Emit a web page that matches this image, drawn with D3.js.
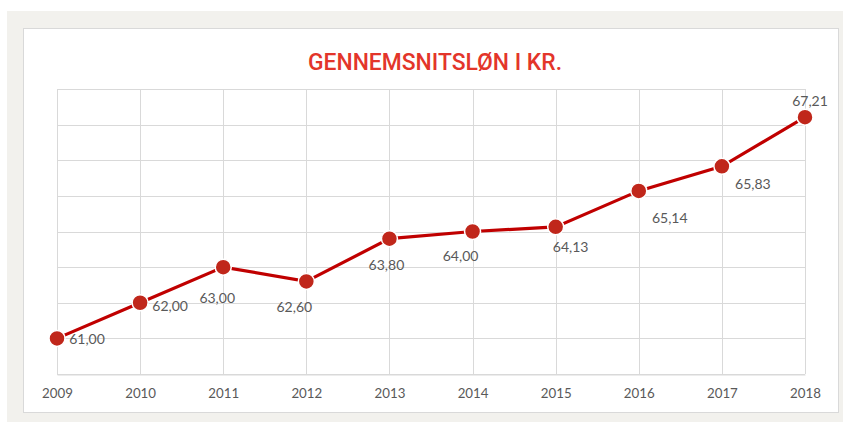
<!DOCTYPE html>
<html><head><meta charset="utf-8">
<script src="https://cdn.jsdelivr.net/npm/d3@7"></script>
<style>html,body{margin:0;padding:0;background:#fff;}svg{display:block;}</style>
</head><body>
<svg id="chart" width="843" height="422"></svg>
<script>
const years = ["2009","2010","2011","2012","2013","2014","2015","2016","2017","2018"];
const wages = [61.00, 62.00, 63.00, 62.60, 63.80, 64.00, 64.13, 65.14, 65.83, 67.21];
const yTicks = [60, 61, 62, 63, 64, 65, 66, 67, 68];
const title = "GENNEMSNITSLØN I KR.";

(function(){
// label offsets from each point (layout only)
const labelOffsets = [[30,6],[30,8],[-6,36],[-12,31],[-3,31],[-12,29],[15,25],[31,32],[31,23],[5,-11]];

const svg = d3.select("#chart");
svg.append("rect").attr("x",0).attr("y",0).attr("width",843).attr("height",422).attr("fill","#ffffff");
svg.append("rect").attr("x",7).attr("y",11).attr("width",836).attr("height",411).attr("fill","#f2f1ed");
svg.append("rect").attr("x",23.5).attr("y",28.5).attr("width",815).attr("height",384).attr("fill","#fff").attr("stroke","#d9d9d9").attr("stroke-width",1);

const pL = 57, pR = 805, pT = 89, pB = 374;
const x = d3.scalePoint().domain(years).range([pL, pR]);
const y = d3.scaleLinear().domain([60, 68]).range([pB, pT]);

const g = svg.append("g");
g.selectAll("line.h").data(yTicks).join("line")
  .attr("x1", pL).attr("x2", pR)
  .attr("y1", d => Math.round(y(d))+0.5).attr("y2", d => Math.round(y(d))+0.5)
  .attr("stroke", "#d9d9d9").attr("stroke-width", 1);
g.selectAll("line.v").data(years).join("line")
  .attr("x1", d => Math.round(x(d))+0.5).attr("x2", d => Math.round(x(d))+0.5)
  .attr("y1", pT).attr("y2", pB)
  .attr("stroke", "#d9d9d9").attr("stroke-width", 1);

const xAxis = d3.axisBottom(x).tickSize(0).tickPadding(14);
const ax = svg.append("g").attr("transform", `translate(0,${pB+0.5})`).call(xAxis);
ax.select(".domain").attr("stroke", "#d9d9d9");
ax.selectAll("text").attr("font-family","Lato, 'Open Sans', sans-serif").attr("font-size", 13.3).attr("fill","#595959");

svg.append("text").attr("x", 435).attr("y", 70).attr("text-anchor","middle")
  .attr("font-family","Roboto, sans-serif").attr("font-weight", 500)
  .attr("font-size", 24).attr("fill", "#e3352a")
  .attr("textLength", 254).attr("lengthAdjust", "spacingAndGlyphs").text(title);

const data = years.map((yr,i) => ({yr, v: wages[i], off: labelOffsets[i]}));

svg.append("path").datum(data)
  .attr("d", d3.line().x(d => x(d.yr)).y(d => y(d.v)))
  .attr("fill","none").attr("stroke","#c00000").attr("stroke-width",3.2);

svg.selectAll("circle.pt").data(data).join("circle")
  .attr("cx", d => x(d.yr)).attr("cy", d => y(d.v)).attr("r", 8)
  .attr("fill", "#c0271b").attr("stroke", "#fff").attr("stroke-width", 1.5);

const fmt = v => v.toFixed(2).replace(".", ",");
svg.selectAll("text.lbl").data(data).join("text")
  .attr("x", d => x(d.yr) + d.off[0])
  .attr("y", d => y(d.v) + d.off[1])
  .attr("text-anchor", "middle")
  .attr("font-family","Lato, 'Open Sans', sans-serif").attr("font-size", 14).attr("fill","#595959")
  .text(d => fmt(d.v));
})();
</script>
</body></html>
